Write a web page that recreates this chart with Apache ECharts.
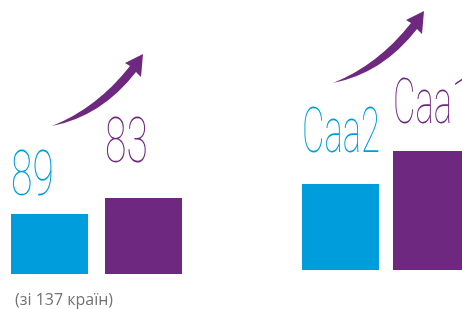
<!DOCTYPE html>
<html>
<head>
<meta charset="utf-8">
<script src="https://cdn.jsdelivr.net/npm/echarts@6/dist/echarts.min.js"></script>
<style>
html,body{margin:0;padding:0;background:#fff;}
#c{width:462px;height:309px;}
</style>
</head>
<body>
<div id="c"></div>
<script>
// ---- data ----
const rankCategories = ['2016', '2017'];
const rankLabels = ['89', '83'];
const rankBarHeights = [60, 76];
const ratingCategories = ['2016', '2017'];
const ratingLabels = ['Caa2', 'Caa1'];
const ratingBarHeights = [86, 119];
const footnote = '(зі 137 країн)';

const BLUE = '#009ddc';
const PURPLE = '#6e2880';
const barColors = [BLUE, PURPLE];

// arrow shape
const ArrowShape = echarts.graphic.extendPath(
  'M0 0 Q45 -18 78 -60 L73 -63 L91 -72 L89 -49 L84 -54 Q50 -10 0 0 Z', {});
echarts.graphic.registerShape('trendArrow', ArrowShape);

const chart = echarts.init(document.getElementById('c'), null, {renderer: 'canvas'});

function barData(vals) {
  return vals.map((v, i) => ({value: v, itemStyle: {color: barColors[i]}}));
}

const option = {
  animation: false,
  grid: [
    {left: 2.5, width: 188, top: 124, height: 150, outerBoundsMode: 'none', containLabel: false},
    {left: 295, width: 182, top: 120, height: 150, outerBoundsMode: 'none', containLabel: false}
  ],
  xAxis: [
    {type: 'category', gridIndex: 0, data: rankCategories, show: false},
    {type: 'category', gridIndex: 1, data: ratingCategories, show: false}
  ],
  yAxis: [
    {type: 'value', gridIndex: 0, min: 0, max: 150, show: false},
    {type: 'value', gridIndex: 1, min: 0, max: 150, show: false}
  ],
  series: [
    {type: 'bar', xAxisIndex: 0, yAxisIndex: 0, barWidth: 77, data: barData(rankBarHeights)},
    {type: 'bar', xAxisIndex: 1, yAxisIndex: 1, barWidth: 77, data: barData(ratingBarHeights)}
  ]
};
chart.setOption(option);

// ---- labels & decorations placed from the axes ----
const labelLift = [[34.5, 51.5], [47.5, 44]];
const labelScale = [0.62, 0.55];
const labelSets = [rankLabels, ratingLabels];
const heightSets = [rankBarHeights, ratingBarHeights];
const graphics = [];
for (let s = 0; s < 2; s++) {
  for (let i = 0; i < 2; i++) {
    const p = chart.convertToPixel({seriesIndex: s}, [i, heightSets[s][i]]);
    graphics.push({
      type: 'text',
      x: p[0] - 38.5,
      y: p[1] - labelLift[s][i],
      scaleX: labelScale[s],
      style: {
        text: labelSets[s][i],
        fontFamily: 'Roboto',
        fontWeight: 100,
        fontSize: 63,
        fill: barColors[i],
        align: 'left',
        verticalAlign: 'middle'
      }
    });
  }
}
const arrowAnchors = [[52, 126], [333, 83]];
arrowAnchors.forEach(a => {
  graphics.push({
    type: 'trendArrow',
    x: a[0], y: a[1],
    shape: {},
    style: {fill: PURPLE}
  });
});
graphics.push({
  type: 'text',
  x: 15, y: 300,
  style: {
    text: footnote,
    fontFamily: 'Open Sans',
    fontSize: 16,
    fill: '#727272',
    align: 'left',
    verticalAlign: 'middle'
  }
});
chart.setOption({graphic: graphics});
</script>
</body>
</html>
